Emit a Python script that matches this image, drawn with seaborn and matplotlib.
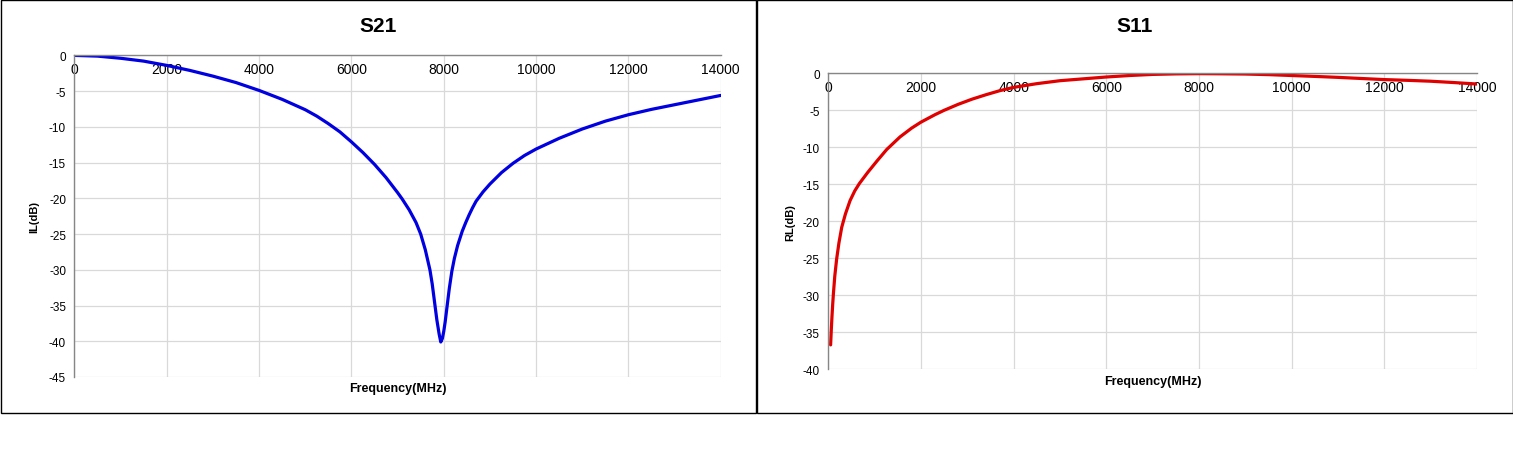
import matplotlib
matplotlib.use("Agg")
import matplotlib.pyplot as plt
from matplotlib.patches import Rectangle
import seaborn as sns
import pandas as pd

# ---- data ----
s21_freq = [0, 500, 1000, 1500, 2000, 2500, 3000, 3500, 4000, 4500, 5000, 5250, 5500,
            5750, 6000, 6250, 6500, 6750, 7000, 7100, 7250, 7400, 7500, 7600, 7700,
            7750, 7800, 7850, 7900, 7935, 7970, 8000, 8030, 8070, 8120, 8175, 8230,
            8300, 8400, 8475, 8550, 8625, 8700, 8850, 9000, 9250, 9500, 9750, 10000,
            10500, 11000, 11500, 12000, 12500, 13000, 13500, 14000]
s21_db = [0.0, -0.1, -0.4, -0.8, -1.4, -2.1, -2.9, -3.8, -4.9, -6.15, -7.6, -8.5, -9.55,
          -10.7, -12.1, -13.6, -15.25, -17.1, -19.2, -20.1, -21.6, -23.4, -25.0, -27.2, -30.0,
          -32.0, -34.5, -37.0, -39.0, -40.1, -39.6, -38.6, -37.3, -35.2, -32.6, -30.2, -28.4,
          -26.6, -24.6, -23.4, -22.3, -21.3, -20.4, -19.1, -18.0, -16.4, -15.1, -14.0, -13.1,
          -11.6, -10.3, -9.2, -8.3, -7.55, -6.9, -6.25, -5.6]

s11_freq = [50, 65, 80, 95, 110, 140, 180, 230, 290, 370, 470, 570, 670, 850, 1044,
            1260, 1547, 1800, 2000, 2300, 2500, 2800, 3100, 3400, 3700, 4000, 4500,
            5000, 5500, 6000, 6500, 7000, 7500, 8000, 8500, 9000, 9500, 10000, 10500,
            11000, 11500, 12000, 12500, 13000, 13500, 14000]
s11_db = [-36.7, -34.6, -32.8, -31.2, -29.8, -27.4, -25.1, -22.9, -20.8, -19.0, -17.2,
          -15.9, -14.9, -13.4, -11.9, -10.3, -8.6, -7.4, -6.6, -5.6, -5.0, -4.2, -3.5,
          -2.9, -2.35, -1.9, -1.4, -1.0, -0.75, -0.5, -0.3, -0.15, -0.08, -0.05, -0.07,
          -0.1, -0.18, -0.3, -0.42, -0.55, -0.7, -0.85, -0.95, -1.07, -1.25, -1.45]

x_ticks = [0, 2000, 4000, 6000, 8000, 10000, 12000, 14000]
s21_yticks = [0, -5, -10, -15, -20, -25, -30, -35, -40, -45]
s11_yticks = [0, -5, -10, -15, -20, -25, -30, -35, -40]

sns.set_style("white")
plt.rcParams['font.family'] = ['Liberation Sans', 'DejaVu Sans']
plt.rcParams['axes.unicode_minus'] = False
plt.rcParams['text.color'] = 'black'
plt.rcParams['xtick.color'] = 'black'
plt.rcParams['ytick.color'] = 'black'

W, H = 1513, 460
fig = plt.figure(figsize=(W / 100, H / 100), dpi=100)

NARROW = ['Liberation Sans Narrow', 'Liberation Sans', 'DejaVu Sans']


def fx(px):
    return px / W


def fy(py):
    return 1 - py / H


def panel(x0, x1, ax_rect, freq, vals, yticks, ymin, color, title, ylabel,
          title_x, ylabel_x, xlabel_y):
    # panel border
    fig.add_artist(Rectangle((fx(x0 + 0.5), fy(413.5)), fx(x1 - x0 - 1), 413 / H,
                             transform=fig.transFigure, fill=False,
                             edgecolor='black', linewidth=1.0))
    l, t, r, b = ax_rect
    ax = fig.add_axes([fx(l), fy(b), fx(r - l), (b - t) / H])
    df = pd.DataFrame({"Frequency": freq, "dB": vals})
    sns.lineplot(data=df, x="Frequency", y="dB", ax=ax, color=color,
                 linewidth=2.3, sort=False)
    ax.set_xlim(0, 14000)
    ax.set_ylim(ymin, 0)
    ax.set_xticks(x_ticks)
    ax.set_yticks(yticks)
    ax.set_xticklabels([str(v) for v in x_ticks], fontfamily=NARROW, fontsize=8.3)
    ax.set_yticklabels([str(v) for v in yticks], fontfamily=NARROW, fontsize=8.5)
    ax.grid(True, color='#d9d9d9', linewidth=0.9)
    ax.set_axisbelow(True)
    for s in ['top', 'right']:
        ax.spines[s].set_visible(False)
    ax.spines['bottom'].set_position(('data', 0))
    ax.spines['bottom'].set_color('#868686')
    ax.spines['left'].set_color('#868686')
    ax.spines['bottom'].set_linewidth(1.0)
    ax.spines['left'].set_linewidth(1.0)
    ax.tick_params(axis='x', length=3, color='#868686', pad=2, direction='out')
    ax.tick_params(axis='y', length=4, color='#868686', pad=2)
    ax.set_xlabel("")
    ax.set_ylabel("")
    fig.text(fx(title_x), fy(26), title, ha='center', va='center',
             fontsize=15, fontweight='bold', fontfamily=NARROW)
    fig.text(fx(ylabel_x), fy((t + b) / 2), ylabel, ha='center', va='center',
             rotation=90, fontsize=8, fontweight='bold')
    fig.text(fx((l + r) / 2), fy(xlabel_y), "Frequency(MHz)", ha='center',
             va='center', fontsize=9, fontweight='bold', fontfamily=NARROW)
    return ax


panel(0, 756, (74.4, 56.4, 720.8, 378.0), s21_freq, s21_db, s21_yticks, -45,
      '#0000e0', 'S21', 'IL(dB)', 378, 34, 389)
panel(756, 1513, (828.3, 74.3, 1477.0, 370.3), s11_freq, s11_db, s11_yticks, -40,
      '#e00000', 'S11', 'RL(dB)', 1135, 790, 382)

fig.savefig("out.png", dpi=100, facecolor='white')
